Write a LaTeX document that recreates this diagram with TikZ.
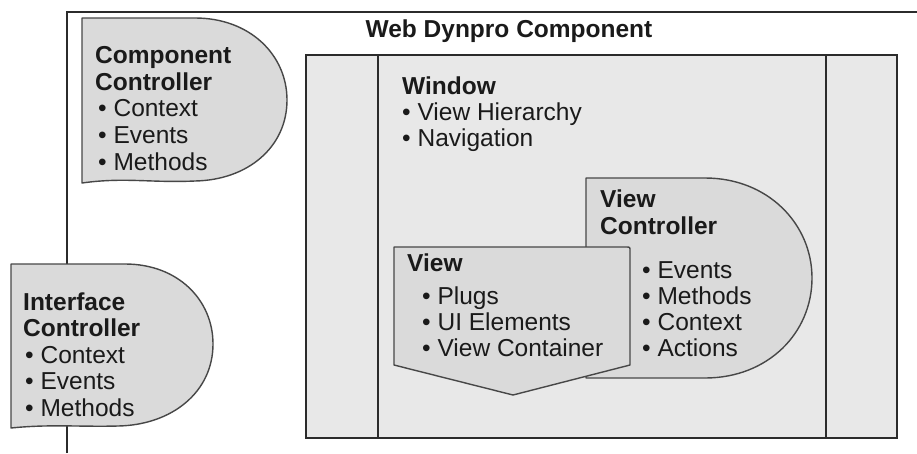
\documentclass[tikz,border=0pt]{standalone}
\usepackage{fontspec}
\setmainfont{Liberation Sans}
\definecolor{shapefill}{HTML}{DADADA}
\definecolor{boxfill}{HTML}{E8E8E8}
\definecolor{edge}{HTML}{2B2B2B}
\definecolor{shapeedge}{HTML}{474747}
\definecolor{ink}{HTML}{1A1A1A}
\begin{document}
\begin{tikzpicture}[x=1pt,y=-1pt,
  txt/.style={inner sep=0pt, anchor=base west, text=ink, font=\fontsize{24.5}{26.5}\selectfont},
  hd/.style={txt, font=\fontsize{24.5}{26.5}\selectfont\bfseries},
  frame/.style={draw=edge, line width=2pt},
  boxline/.style={draw=edge, line width=2.4pt},
  ctl/.style={draw=shapeedge, fill=shapefill, line width=1.4pt, line join=round}]
\useasboundingbox[fill=white] (0,0) rectangle (917,453);
% outer component frame
\draw[frame] (67,453) -- (67,12) -- (917,12);
% inner window box
\draw[boxline, fill=boxfill] (306,55) rectangle (897,438);
\draw[boxline] (378,55) -- (378,438) (826,55) -- (826,438);
% component controller
\draw[ctl] (82,18) -- (195,18) .. controls (250,18) and (287,55) .. (287,100)
  .. controls (287,147) and (248,180) .. (195,181)
  .. controls (150,183) and (125,177) .. (82,183) -- cycle;
% interface controller
\draw[ctl] (11,264) -- (125,264) .. controls (178,264) and (213,300) .. (213,344)
  .. controls (213,392) and (172,425) .. (118,426)
  .. controls (80,427) and (50,424) .. (11,428) -- cycle;
% view controller
\draw[ctl] (586,178) -- (705,178) .. controls (768,178) and (812,224) .. (812,278)
  .. controls (812,333) and (768,378) .. (705,378) -- (586,378) -- cycle;
% view
\draw[ctl] (394,365) -- (394,247) -- (626,247) .. controls (630,247) .. (630,251)
  -- (630,365) -- (513,395) -- cycle;
% texts
\node[hd, anchor=base] (title) at (509,37) {Web Dynpro Component};
\node[hd] (cch1) at (95,63) {Component};
\node[hd] (cch2) at (95,90) {Controller};
\foreach \t [count=\i] in {Context,Events,Methods}
  \node[txt] (ccb\i) at (98,{116.5+26.75*(\i-1)}) {• \t};
\node[hd] (ich1) at (23,310) {Interface};
\node[hd] (ich2) at (23,336.5) {Controller};
\foreach \t [count=\i] in {Context,Events,Methods}
  \node[txt] (icb\i) at (25,{363+26.5*(\i-1)}) {• \t};
\node[hd] (winh) at (402,94) {Window};
\foreach \t [count=\i] in {View Hierarchy,Navigation}
  \node[txt] (winb\i) at (402,{120+26*(\i-1)}) {• \t};
\node[hd] (vch1) at (600,207) {View};
\node[hd] (vch2) at (600,234) {Controller};
\foreach \t [count=\i] in {Events,Methods,Context,Actions}
  \node[txt] (vcb\i) at (642,{278+26*(\i-1)}) {• \t};
\node[hd] (vh) at (407,271) {View};
\foreach \t [count=\i] in {Plugs,UI Elements,View Container}
  \node[txt] (vb\i) at (422,{304+26*(\i-1)}) {• \t};
\end{tikzpicture}
\end{document}
